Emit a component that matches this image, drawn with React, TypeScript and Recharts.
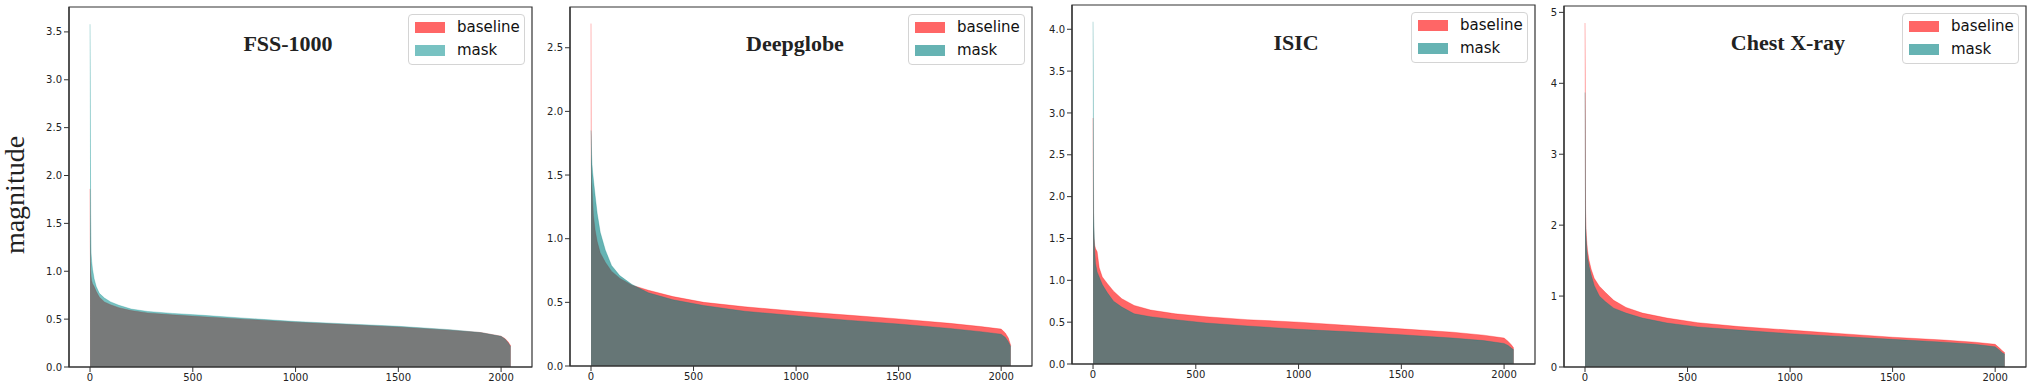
import React from 'react';
import { AreaChart, Area, XAxis, YAxis, Legend, ReferenceArea } from 'recharts';

// Sorted channel index (x) at which values were read
const sampleIndex = [0, 1, 2, 3, 5, 8, 12, 20, 30, 45, 70, 100, 140, 200, 280, 400, 550, 750, 1000, 1250, 1500, 1750, 1900, 2000, 2020, 2035, 2047];

// FSS-1000
const fssBaseline = [1.86, 1.3, 1.1, 1.02, 0.95, 0.9, 0.87, 0.84, 0.79, 0.73, 0.68, 0.65, 0.62, 0.59, 0.565, 0.545, 0.525, 0.5, 0.468, 0.443, 0.418, 0.385, 0.36, 0.322, 0.295, 0.26, 0.22];
const fssMask = [3.58, 3.05, 2.2, 1.6, 1.19, 1.1, 1.02, 0.92, 0.84, 0.77, 0.72, 0.68, 0.645, 0.605, 0.58, 0.56, 0.54, 0.51, 0.475, 0.45, 0.425, 0.39, 0.36, 0.32, 0.29, 0.25, 0.21];

// Deepglobe
const deepBaseline = [2.69, 1.6, 1.5, 1.45, 1.4, 1.3, 1.18, 1.07, 0.98, 0.89, 0.815, 0.745, 0.69, 0.635, 0.595, 0.545, 0.5, 0.465, 0.43, 0.4, 0.37, 0.335, 0.31, 0.29, 0.26, 0.22, 0.16];
const deepMask = [1.85, 1.8, 1.72, 1.66, 1.58, 1.52, 1.46, 1.34, 1.2, 1.05, 0.91, 0.79, 0.71, 0.64, 0.575, 0.52, 0.475, 0.43, 0.395, 0.36, 0.33, 0.295, 0.27, 0.25, 0.225, 0.19, 0.15];

// ISIC
const isicBaseline = [2.94, 2.2, 1.85, 1.65, 1.5, 1.42, 1.38, 1.34, 1.15, 1.04, 0.96, 0.87, 0.78, 0.7, 0.645, 0.6, 0.565, 0.53, 0.5, 0.46, 0.42, 0.38, 0.345, 0.31, 0.27, 0.23, 0.19];
const isicMask = [4.09, 3.5, 2.32, 1.8, 1.6, 1.35, 1.2, 1.1, 1.04, 0.95, 0.85, 0.75, 0.68, 0.6, 0.565, 0.53, 0.49, 0.455, 0.415, 0.385, 0.35, 0.31, 0.28, 0.245, 0.22, 0.19, 0.17];

// Chest X-ray
const chestBaseline = [4.85, 4.1, 2.6, 2.2, 1.95, 1.79, 1.65, 1.5, 1.38, 1.25, 1.14, 1.05, 0.94, 0.84, 0.76, 0.69, 0.625, 0.57, 0.52, 0.47, 0.42, 0.38, 0.35, 0.32, 0.27, 0.23, 0.2];
const chestMask = [3.87, 3.45, 2.3, 2.0, 1.85, 1.69, 1.55, 1.42, 1.3, 1.15, 1.0, 0.92, 0.83, 0.76, 0.69, 0.62, 0.565, 0.52, 0.47, 0.43, 0.39, 0.35, 0.32, 0.285, 0.24, 0.2, 0.18];

const panelTitles = ['FSS-1000', 'Deepglobe', 'ISIC', 'Chest X-ray'];
const seriesNames = ['baseline', 'mask'];
const xTicks = [0, 500, 1000, 1500, 2000];
const fssYTicks = [0, 0.5, 1, 1.5, 2, 2.5, 3, 3.5];
const deepYTicks = [0, 0.5, 1, 1.5, 2, 2.5];
const isicYTicks = [0, 0.5, 1, 1.5, 2, 2.5, 3, 3.5, 4];
const chestYTicks = [0, 1, 2, 3, 4, 5];
const yLabel = 'magnitude';

const X_DOMAIN: [number, number] = [-102.4, 2150.4];
const H = 389;
const Y_AXIS_W = 40;
const X_AXIS_H = 22;
const RIGHT_PAD = 4;

const tickStyle = { fill: '#222', fontSize: 10, fontFamily: 'DejaVu Sans' };
const spine = { stroke: '#333', strokeWidth: 1.2 };

type Cfg = {
  plotLeft: number; plotRight: number; plotTop: number; plotBottom: number;
  yMax: number; titleX: number; titleY: number;
  baseColor: string; baseOpacity: number; maskColor: string; maskOpacity: number;
  decimals: number;
};

const panels: { cfg: Cfg; baseline: number[]; mask: number[]; yTicks: number[]; title: string }[] = [
  {
    cfg: { plotLeft: 69, plotRight: 532, plotTop: 7, plotBottom: 367, yMax: 3.76, titleX: 288, titleY: 51,
      baseColor: '#ff0000', baseOpacity: 0.6, maskColor: '#008c8c', maskOpacity: 0.53, decimals: 1 },
    baseline: fssBaseline, mask: fssMask, yTicks: fssYTicks, title: panelTitles[0],
  },
  {
    cfg: { plotLeft: 570, plotRight: 1032, plotTop: 7, plotBottom: 366, yMax: 2.82, titleX: 795, titleY: 51,
      baseColor: '#ff0000', baseOpacity: 0.6, maskColor: '#008080', maskOpacity: 0.6, decimals: 1 },
    baseline: deepBaseline, mask: deepMask, yTicks: deepYTicks, title: panelTitles[1],
  },
  {
    cfg: { plotLeft: 1072, plotRight: 1535, plotTop: 5, plotBottom: 364, yMax: 4.29, titleX: 1296, titleY: 50,
      baseColor: '#ff0000', baseOpacity: 0.6, maskColor: '#008080', maskOpacity: 0.6, decimals: 1 },
    baseline: isicBaseline, mask: isicMask, yTicks: isicYTicks, title: panelTitles[2],
  },
  {
    cfg: { plotLeft: 1564, plotRight: 2026, plotTop: 6, plotBottom: 367, yMax: 5.09, titleX: 1788, titleY: 50,
      baseColor: '#ff0000', baseOpacity: 0.6, maskColor: '#008080', maskOpacity: 0.6, decimals: 0 },
    baseline: chestBaseline, mask: chestMask, yTicks: chestYTicks, title: panelTitles[3],
  },
];

function LegendBox({ cfg }: { cfg: Cfg }) {
  const colors = [
    { c: cfg.baseColor, o: cfg.baseOpacity },
    { c: cfg.maskColor, o: cfg.maskOpacity },
  ];
  return (
    <div style={{
      position: 'relative', width: 117, height: 51, boxSizing: 'border-box',
      border: '1px solid #d4d4d4', borderRadius: 4, background: 'rgba(255,255,255,0.85)',
    }}>
      {seriesNames.map((name, i) => (
        <div key={name} style={{ position: 'absolute', left: 0, top: i === 0 ? 7 : 30, height: 12, width: 117 }}>
          <div style={{ position: 'absolute', left: 6, top: 0, width: 30, height: 11, background: colors[i].c, opacity: colors[i].o }} />
          <div style={{
            position: 'absolute', left: 48, top: -4, fontFamily: 'DejaVu Sans', fontSize: 15,
            lineHeight: '18px', color: '#111', whiteSpace: 'nowrap',
          }}>{name}</div>
        </div>
      ))}
    </div>
  );
}

function Panel({ cfg, baseline, mask, yTicks, title }: { cfg: Cfg; baseline: number[]; mask: number[]; yTicks: number[]; title: string }) {
  const data = sampleIndex.map((x, i) => ({ x, baseline: baseline[i], mask: mask[i] }));
  const left = cfg.plotLeft - Y_AXIS_W;
  const width = cfg.plotRight - cfg.plotLeft + Y_AXIS_W + RIGHT_PAD;
  const bottomMargin = H - cfg.plotBottom - X_AXIS_H;
  const legendLeft = cfg.plotRight - 7 - 117 - left;
  return (
    <div style={{ position: 'absolute', left, top: 0, width, height: H }}>
      <AreaChart
        width={width}
        height={H}
        data={data}
        margin={{ top: cfg.plotTop, right: RIGHT_PAD, bottom: bottomMargin, left: 0 }}
      >
        <XAxis
          dataKey="x"
          type="number"
          domain={X_DOMAIN}
          ticks={xTicks}
          interval={0}
          height={X_AXIS_H}
          tickSize={5}
          axisLine={spine}
          tickLine={{ stroke: '#333' }}
          tick={tickStyle}
        />
        <YAxis
          type="number"
          domain={[0, cfg.yMax]}
          ticks={yTicks}
          interval={0}
          width={Y_AXIS_W}
          tickSize={5}
          axisLine={spine}
          tickLine={{ stroke: '#333' }}
          tick={tickStyle}
          tickFormatter={(v: number) => v.toFixed(cfg.decimals)}
        />
        <Area
          dataKey="baseline"
          name={seriesNames[0]}
          type="linear"
          fill={cfg.baseColor}
          fillOpacity={cfg.baseOpacity}
          stroke={cfg.baseColor}
          strokeOpacity={0.35}
          strokeWidth={0.8}
          isAnimationActive={false}
          dot={false}
          activeDot={false}
        />
        <Area
          dataKey="mask"
          name={seriesNames[1]}
          type="linear"
          fill={cfg.maskColor}
          fillOpacity={cfg.maskOpacity}
          stroke={cfg.maskColor}
          strokeOpacity={0.35}
          strokeWidth={0.8}
          isAnimationActive={false}
          dot={false}
          activeDot={false}
        />
        <ReferenceArea
          x1={X_DOMAIN[0]}
          x2={X_DOMAIN[1]}
          y1={0}
          y2={cfg.yMax}
          fill="none"
          stroke="#333"
          strokeWidth={1.2}
          ifOverflow="visible"
        />
        <Legend
          layout="horizontal"
          align="center"
          verticalAlign="middle"
          content={() => <LegendBox cfg={cfg} />}
          wrapperStyle={{ position: 'absolute', left: legendLeft, top: cfg.plotTop + 7, width: 117, height: 51, bottom: 'auto', right: 'auto' }}
        />
      </AreaChart>
      <div style={{
        position: 'absolute', left: cfg.titleX - left, top: cfg.titleY - 18.4,
        transform: 'translateX(-50%)', fontFamily: '"Liberation Serif", "Times New Roman", serif',
        fontWeight: 'bold', fontSize: 22, lineHeight: '22px', color: '#222', whiteSpace: 'nowrap',
      }}>{title}</div>
    </div>
  );
}

export default function App() {
  return (
    <div style={{ position: 'absolute', left: 0, top: 0, width: 2030, height: H, background: '#fff', overflow: 'hidden' }}>
      <div style={{
        position: 'absolute', left: 15, top: 195, transform: 'translate(-50%, -50%) rotate(-90deg)',
        fontFamily: '"Liberation Serif", "Times New Roman", serif', fontSize: 28, color: '#222', whiteSpace: 'nowrap',
        lineHeight: '28px',
      }}>{yLabel}</div>
      {panels.map((p) => (
        <Panel key={p.title} cfg={p.cfg} baseline={p.baseline} mask={p.mask} yTicks={p.yTicks} title={p.title} />
      ))}
    </div>
  );
}
